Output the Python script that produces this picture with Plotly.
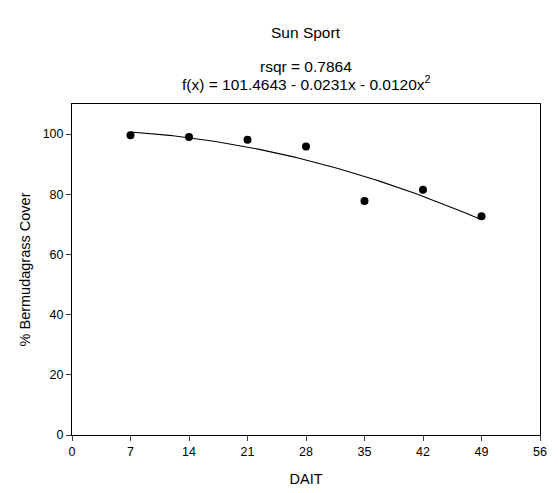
import numpy as np
import plotly.graph_objects as go

# Data
days = [7, 14, 21, 28, 35, 42, 49]
cover = [99.6, 99.0, 98.1, 95.9, 77.8, 81.5, 72.7]
# Fitted regression coefficients (from chart text): f(x) = b0 + b1*x + b2*x^2
coef = [101.4643, -0.0231, -0.0120]
x_ticks = [0, 7, 14, 21, 28, 35, 42, 49, 56]
y_ticks = [0, 20, 40, 60, 80, 100]

xf = np.linspace(min(days), max(days), 100)
yf = coef[0] + coef[1] * xf + coef[2] * xf ** 2

font = "Liberation Sans, Arial, sans-serif"
W, H = 550, 485
ML, MR, MT, MB = 64, 18, 96, 58

fig = go.Figure()
fig.add_trace(go.Scatter(x=xf, y=yf, mode="lines",
                         line=dict(color="black", width=1.1), showlegend=False))
fig.add_trace(go.Scatter(x=days, y=cover, mode="markers",
                         marker=dict(color="black", size=8), showlegend=False))

plot_h = H - MT - MB


def py(pix):
    return 1 + (MT - pix) / plot_h


fig.update_layout(
    width=W, height=H,
    margin=dict(l=ML, r=MR, t=MT, b=MB, autoexpand=False),
    plot_bgcolor="white", paper_bgcolor="white",
    font=dict(family=font, size=12.5, color="black"),
    annotations=[
        dict(text="Sun Sport", x=0.5, xref="paper", y=py(24), yref="paper",
             yanchor="middle", showarrow=False, font=dict(size=15.5)),
        dict(text="rsqr = 0.7864", x=0.5, xref="paper", y=py(58), yref="paper",
             yanchor="middle", showarrow=False, font=dict(size=15.5)),
        dict(text="f(x) = 101.4643 - 0.0231x - 0.0120x<sup>2</sup>", x=0.5, xref="paper",
             y=py(75), yref="paper", yanchor="middle", showarrow=False, font=dict(size=15.5)),
    ],
    xaxis=dict(range=[0, 56], tickvals=x_ticks, ticks="outside", ticklen=5,
               showline=True, linecolor="black", linewidth=1, mirror=True,
               showgrid=False, zeroline=False, automargin=False,
               tickfont=dict(color="black", size=12.5),
               title=dict(text="DAIT", font=dict(size=14.5), standoff=15)),
    yaxis=dict(range=[0, 110], tickvals=y_ticks, ticks="outside", ticklen=5,
               showline=True, linecolor="black", linewidth=1, mirror=True,
               showgrid=False, zeroline=False, automargin=False,
               tickfont=dict(color="black", size=12.5),
               title=dict(text="% Bermudagrass Cover", font=dict(size=14.5), standoff=8)),
)

fig.write_html("out.html")
